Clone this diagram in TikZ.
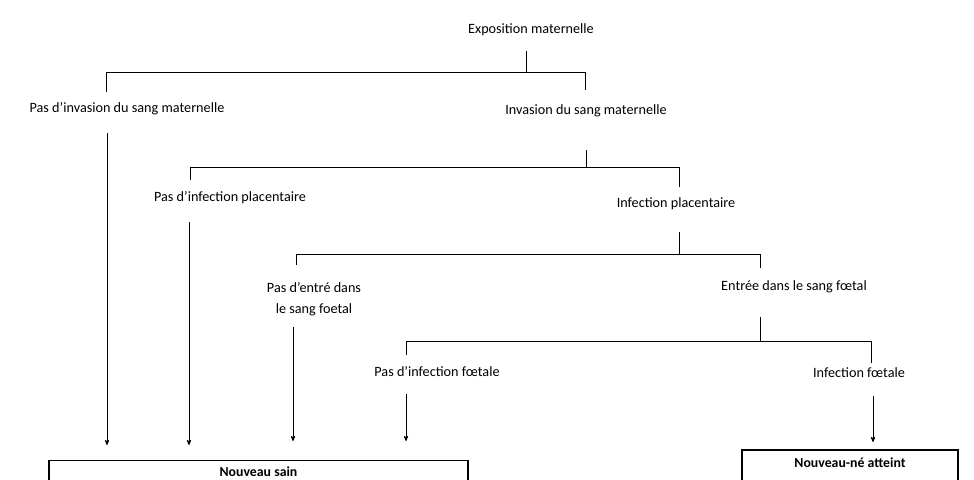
\documentclass[tikz,border=0pt]{standalone}
\usepackage{fontspec}
\setmainfont{Carlito}
\usetikzlibrary{positioning}
\usetikzlibrary{arrows}

\begin{document}
\begin{tikzpicture}
[x=1pt, y=-1pt, line width=0.8pt, >=stealth',
 every node/.style={font=\fontsize{14.2}{21}\selectfont, inner sep=2pt},
 box/.style={draw, anchor=north, inner ysep=0pt, text height=16pt, text depth=22pt,
   font=\bfseries\fontsize{13.8}{16}\selectfont}]
\useasboundingbox (0,0) rectangle (974,479);
\clip (0,0) rectangle (974,479);

% Labels:
\node (expo)    at (531,30)  {Exposition maternelle};
\node (pasinv)  at (127,109) {Pas d’invasion du sang maternelle};
\node (inv)     at (586,111) {Invasion du sang maternelle};
\node (pasplac) at (230,198) {Pas d’infection placentaire};
\node (plac)    at (676,204) {Infection placentaire};
\node[align=center] (pasent) at (314,299) {Pas d’entré dans\\le sang foetal};
\node (ent)     at (794,287) {Entrée dans le sang fœtal};
\node (pasfoet) at (437,372) {Pas d’infection fœtale};
\node (foet)    at (859,373) {Infection fœtale};

% Outcome boxes:
\node[box, minimum width=419pt, line width=1.2pt] (sain) at (258.5,460) {Nouveau sain};
\node[box, minimum width=216pt, line width=2pt, text height=17pt] (atteint) at (850,449) {Nouveau-né atteint};

% Junctions:
\coordinate (j1)  at (526,72);  \coordinate (j1l) at (106,72);  \coordinate (j1r) at (585,72);
\coordinate (j2)  at (586,167); \coordinate (j2l) at (190,167); \coordinate (j2r) at (679,167);
\coordinate (j3)  at (679,254); \coordinate (j3l) at (296,254); \coordinate (j3r) at (760,254);
\coordinate (j4)  at (760,341); \coordinate (j4l) at (406,341); \coordinate (j4r) at (871,341);

% Branches:
\draw (j1) -- ++(0,-21);  \draw (j1l) -- (j1r);  \draw (j1l) -- ++(0,20);  \draw (j1r) -- ++(0,18);
\draw (j2) -- ++(0,-17);  \draw (j2l) -- (j2r);  \draw (j2l) -- ++(0,13);  \draw (j2r) -- ++(0,20);
\draw (j3) -- ++(0,-22);  \draw (j3l) -- (j3r);  \draw (j3l) -- ++(0,11);  \draw (j3r) -- ++(0,14);
\draw (j4) -- ++(0,-24);  \draw (j4l) -- (j4r);  \draw (j4l) -- ++(0,14);  \draw (j4r) -- ++(0,22);

% Arrows to outcomes:
\coordinate (s1) at (107,133);
\coordinate (s2) at (189,222);
\coordinate (s3) at (293,327);
\coordinate (s4) at (406,394);
\coordinate (s5) at (873,396);
\draw[->] (s1) -- (s1 |- sain.north) [shorten >=15pt];
\draw[->] (s2) -- (s2 |- sain.north) [shorten >=15pt];
\draw[->] (s3) -- (s3 |- sain.north) [shorten >=19pt];
\draw[->] (s4) -- (s4 |- sain.north) [shorten >=19pt];
\draw[->] (s5) -- (s5 |- atteint.north) [shorten >=7pt];

\end{tikzpicture}
\end{document}
